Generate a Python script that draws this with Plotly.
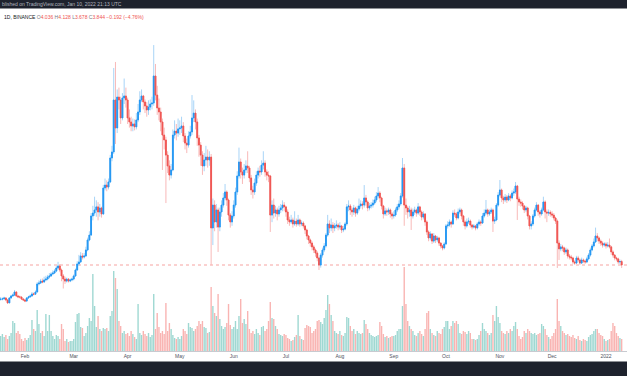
import pandas as pd
import plotly.graph_objects as go

# ---------------- data (daily, 2021-01-18 .. 2022-01-10) ----------------
start_date = "2021-01-18"
first_open = 1.95

closes = [
    1.97, 1.98, 2.03, 1.92, 1.76, 2.03, 2.14, 2.19, 2.36, 2.14,
    2.09, 2.08, 1.97, 1.92, 1.86, 2.03, 2.09, 2.14, 2.25, 2.24,
    2.36, 2.80, 2.85, 2.96, 2.91, 3.02, 3.07, 3.18, 3.24, 3.35,
    3.40, 3.51, 3.68, 3.79, 3.57, 3.24, 3.07, 2.96, 3.07, 2.96,
    3.02, 3.07, 3.24, 3.57, 3.90, 4.01, 4.34, 4.28, 4.34, 4.67,
    5.22, 5.49, 6.54, 6.70, 6.87, 7.04, 6.76, 6.98, 6.65, 8.08,
    8.24, 8.13, 8.41, 9.73, 10.06, 12.92, 11.38, 13.08, 12.92, 11.93,
    13.03, 13.14, 12.92, 11.93, 11.71, 11.49, 11.60, 11.44, 11.82, 12.26,
    12.92, 13.14, 12.81, 12.59, 12.37, 12.53, 12.70, 12.75, 14.24, 13.19,
    12.48, 12.26, 11.71, 10.99, 10.72, 9.89, 9.29, 8.79, 9.07, 10.99,
    11.21, 11.10, 11.33, 11.38, 11.49, 10.94, 10.55, 10.44, 10.94, 11.16,
    11.93, 12.20, 11.71, 10.83, 10.44, 9.89, 9.29, 9.62, 9.78, 9.62,
    9.78, 5.88, 7.14, 6.21, 6.87, 5.93, 6.76, 7.14, 7.53, 7.86,
    7.42, 6.59, 6.21, 6.54, 7.14, 7.86, 8.74, 9.51, 8.96, 8.79,
    9.07, 9.29, 9.18, 8.63, 7.97, 7.86, 8.35, 8.79, 9.01, 8.96,
    9.34, 9.45, 8.96, 8.79, 8.74, 6.59, 7.14, 6.70, 6.87, 6.65,
    6.87, 6.98, 7.14, 7.04, 6.76, 6.32, 6.21, 6.32, 6.10, 6.26,
    6.10, 6.32, 6.10, 6.15, 5.99, 5.77, 5.44, 5.22, 5.05, 4.84,
    4.67, 4.50, 4.23, 3.84, 4.39, 4.67, 4.89, 5.49, 6.10, 5.88,
    6.04, 5.88, 5.99, 6.04, 5.93, 5.99, 5.77, 5.82, 6.10, 7.04,
    7.09, 6.87, 6.76, 6.98, 6.70, 6.92, 7.09, 7.20, 7.14, 7.53,
    7.31, 6.98, 7.09, 7.14, 7.25, 7.42, 7.64, 7.80, 7.53, 7.09,
    6.65, 6.82, 6.76, 6.87, 6.65, 6.54, 6.59, 6.87, 7.04, 7.20,
    7.64, 9.18, 7.14, 6.98, 6.76, 6.87, 6.54, 6.76, 6.87, 6.70,
    7.04, 6.76, 6.48, 6.65, 6.21, 5.66, 5.33, 5.55, 5.16, 5.44,
    5.22, 5.33, 5.05, 4.89, 4.78, 5.00, 5.99, 6.04, 6.21, 6.10,
    6.70, 6.65, 6.43, 6.76, 6.87, 6.54, 6.21, 5.99, 6.21, 6.26,
    6.04, 5.93, 5.99, 5.88, 6.10, 6.21, 6.15, 6.54, 6.70, 6.87,
    6.65, 6.76, 6.87, 6.26, 6.32, 7.14, 7.69, 7.97, 7.53, 7.42,
    7.58, 7.42, 7.64, 7.53, 7.80, 7.86, 8.19, 7.47, 7.31, 7.25,
    7.09, 6.87, 6.98, 6.54, 5.99, 6.10, 6.54, 6.87, 7.14, 6.76,
    6.65, 6.87, 7.31, 6.76, 6.70, 6.74, 6.65, 6.59, 6.43, 6.26,
    5.05, 4.73, 4.84, 4.78, 4.56, 4.67, 4.34, 4.28, 4.23, 4.01,
    3.95, 4.23, 4.12, 3.95, 4.12, 4.06, 4.01, 4.18, 4.39, 4.67,
    4.89, 5.11, 5.44, 5.33, 5.16, 5.05, 4.94, 5.00, 4.89, 4.94,
    4.84, 4.56, 4.39, 4.23, 4.18, 4.01, 4.036, 3.844,
]

highs = [
    2.08, 2.06, 2.10, 2.07, 1.96, 2.08, 2.20, 2.28, 2.47, 2.40,
    2.20, 2.16, 2.12, 2.03, 1.98, 2.08, 2.15, 2.22, 2.36, 2.33,
    2.45, 2.90, 3.00, 3.08, 3.10, 3.20, 3.25, 3.30, 3.40, 3.45,
    3.55, 3.62, 3.80, 4.02, 3.90, 3.65, 3.35, 3.20, 3.15, 3.12,
    3.10, 3.15, 3.32, 3.65, 4.05, 4.40, 4.55, 4.50, 4.50, 4.85,
    5.35, 5.70, 6.70, 7.10, 7.60, 7.40, 7.30, 7.20, 7.05, 8.25,
    8.60, 8.50, 8.60, 9.90, 10.40, 14.68, 15.01, 13.50, 13.60, 13.10,
    13.30, 14.10, 13.60, 13.05, 12.40, 12.00, 11.90, 11.85, 12.20, 12.70,
    13.40, 13.50, 13.20, 12.95, 12.80, 12.90, 12.95, 13.10, 15.94, 14.90,
    13.70, 13.00, 12.50, 11.90, 11.40, 10.90, 10.10, 9.60, 9.40, 11.30,
    11.80, 11.60, 11.90, 11.80, 12.00, 11.70, 11.10, 10.80, 11.20, 11.50,
    13.19, 12.90, 12.40, 11.90, 11.00, 10.60, 10.10, 10.00, 10.40, 10.20,
    10.10, 9.95, 7.50, 7.40, 7.20, 7.00, 7.00, 7.40, 7.80, 8.30,
    7.95, 7.50, 6.70, 6.80, 7.40, 8.10, 9.00, 10.30, 9.70, 9.20,
    9.40, 9.60, 10.10, 9.30, 8.80, 8.20, 8.60, 9.00, 9.20, 9.30,
    9.60, 10.10, 9.60, 9.10, 9.00, 8.80, 7.40, 7.50, 7.10, 7.00,
    7.10, 7.20, 7.40, 7.30, 7.10, 6.90, 6.50, 6.60, 6.45, 6.80,
    6.40, 6.60, 6.40, 6.30, 6.25, 6.05, 5.85, 5.50, 5.30, 5.15,
    4.95, 4.75, 4.60, 4.30, 4.50, 4.80, 5.05, 5.60, 6.60, 6.30,
    6.40, 6.20, 6.15, 6.30, 6.15, 6.20, 6.05, 6.00, 6.20, 7.20,
    7.40, 7.20, 7.00, 7.15, 7.05, 7.10, 7.50, 7.40, 7.35, 8.24,
    7.70, 7.40, 7.25, 7.30, 7.45, 7.60, 7.85, 8.13, 7.90, 7.60,
    7.15, 7.00, 6.95, 7.00, 6.95, 6.75, 6.80, 7.00, 7.20, 7.40,
    7.80, 9.73, 9.40, 7.50, 7.10, 7.10, 7.00, 6.95, 7.05, 6.95,
    7.25, 7.10, 6.85, 6.80, 6.70, 6.30, 5.75, 5.70, 5.60, 5.60,
    5.50, 5.45, 5.40, 5.10, 4.95, 5.10, 6.10, 6.25, 6.35, 6.30,
    6.85, 6.90, 6.75, 6.95, 7.00, 6.95, 6.60, 6.30, 6.40, 6.45,
    6.35, 6.10, 6.10, 6.05, 6.20, 6.35, 6.30, 6.70, 6.90, 7.42,
    6.95, 6.90, 7.00, 6.95, 6.50, 7.25, 7.85, 8.52, 8.05, 7.65,
    7.75, 7.70, 7.80, 7.75, 7.95, 8.05, 8.41, 8.25, 7.60, 7.45,
    7.35, 7.15, 7.10, 7.05, 6.60, 6.25, 6.65, 7.00, 7.30, 7.20,
    6.85, 7.00, 7.60, 7.40, 6.90, 6.90, 6.85, 6.80, 6.70, 6.50,
    6.35, 5.20, 5.00, 4.95, 4.85, 4.80, 4.75, 4.45, 4.40, 4.30,
    4.10, 4.35, 4.35, 4.20, 4.25, 4.20, 4.15, 4.30, 4.50, 4.80,
    5.00, 5.30, 5.90, 5.60, 5.40, 5.25, 5.15, 5.10, 5.10, 5.10,
    5.30, 4.90, 4.65, 4.45, 4.30, 4.25, 4.15, 4.128,
]

lows = [
    1.88, 1.90, 1.93, 1.85, 1.70, 1.74, 1.99, 2.08, 2.15, 2.08,
    2.02, 2.00, 1.92, 1.86, 1.80, 1.84, 1.98, 2.05, 2.10, 2.17,
    2.20, 2.33, 2.72, 2.80, 2.84, 2.86, 2.95, 3.00, 3.10, 3.20,
    3.28, 3.35, 3.45, 3.60, 3.45, 2.95, 2.55, 2.80, 2.88, 2.88,
    2.90, 2.95, 3.00, 3.20, 3.52, 3.80, 3.95, 4.15, 4.20, 4.30,
    4.60, 5.15, 5.45, 6.30, 6.55, 6.50, 6.30, 6.50, 6.45, 6.60,
    7.95, 7.90, 8.00, 8.35, 9.55, 9.95, 10.50, 11.10, 12.40, 11.60,
    11.80, 12.70, 12.50, 11.60, 11.40, 11.20, 11.20, 11.25, 11.30, 11.70,
    12.10, 12.80, 12.40, 12.20, 12.00, 12.10, 12.35, 12.40, 12.60, 12.90,
    12.10, 11.80, 11.20, 9.07, 10.20, 7.25, 8.90, 8.50, 8.60, 9.00,
    10.80, 10.70, 10.90, 11.00, 11.10, 10.60, 10.20, 10.00, 10.30, 10.80,
    11.00, 11.70, 11.30, 10.40, 9.80, 9.30, 8.80, 9.00, 9.30, 9.20,
    9.30, 3.84, 4.94, 5.70, 5.90, 4.56, 5.70, 6.50, 7.00, 7.40,
    7.10, 6.30, 5.90, 6.00, 6.40, 7.00, 7.70, 8.60, 8.60, 8.30,
    8.60, 8.90, 8.90, 8.40, 7.70, 7.50, 7.70, 8.20, 8.60, 8.70,
    8.80, 9.10, 8.70, 8.50, 8.40, 5.66, 6.20, 6.40, 6.50, 6.30,
    6.50, 6.70, 6.80, 6.80, 6.50, 6.10, 6.00, 6.10, 5.90, 6.00,
    5.95, 6.00, 5.95, 5.98, 5.85, 5.55, 5.25, 5.00, 4.85, 4.65,
    4.50, 4.30, 4.05, 3.57, 3.70, 4.25, 4.55, 4.80, 5.40, 5.60,
    5.70, 5.60, 5.70, 5.85, 5.75, 5.80, 5.60, 5.65, 5.75, 6.00,
    6.80, 6.60, 6.50, 6.60, 6.50, 6.60, 6.80, 6.95, 6.90, 7.00,
    7.10, 6.80, 6.85, 6.95, 7.00, 7.15, 7.30, 7.50, 7.30, 6.90,
    6.40, 6.55, 6.55, 6.60, 6.45, 6.35, 6.40, 6.50, 6.75, 6.90,
    7.10, 7.55, 6.00, 6.60, 6.40, 6.50, 5.77, 6.40, 6.60, 6.50,
    6.60, 6.55, 6.30, 6.35, 6.00, 5.50, 5.15, 5.20, 5.00, 5.05,
    5.05, 5.10, 4.90, 4.75, 4.65, 4.70, 4.95, 5.85, 5.95, 5.90,
    6.05, 6.50, 6.30, 6.35, 6.65, 6.35, 6.00, 5.80, 5.90, 6.10,
    5.90, 5.80, 5.85, 5.75, 5.80, 6.00, 6.00, 6.10, 6.45, 6.60,
    6.50, 6.55, 6.65, 5.66, 6.10, 6.25, 7.05, 7.60, 7.30, 7.20,
    7.30, 7.25, 7.35, 7.35, 7.45, 7.65, 7.75, 6.32, 7.10, 7.05,
    6.90, 6.70, 6.75, 6.35, 5.80, 5.80, 6.00, 6.45, 6.80, 6.55,
    6.45, 6.55, 6.80, 6.40, 6.20, 6.55, 6.50, 6.45, 6.30, 6.10,
    3.68, 4.12, 4.60, 4.60, 4.40, 4.45, 4.20, 4.15, 4.10, 3.90,
    3.85, 3.90, 4.00, 3.85, 3.90, 3.95, 3.90, 3.95, 4.10, 4.30,
    4.60, 4.80, 5.05, 5.15, 5.00, 4.90, 4.80, 4.85, 4.75, 4.80,
    4.75, 4.40, 4.25, 4.10, 4.05, 3.90, 3.90, 3.678,
]

volumes_m = [
    15, 17, 14, 16, 12, 15, 18, 30, 28, 18,
    20, 17, 12, 10, 13, 11, 13, 16, 31, 22,
    20, 41, 27, 18, 20, 15, 37, 20, 36, 20,
    15, 12, 16, 15, 12, 27, 22, 10, 12, 9,
    10, 10, 12, 29, 37, 38, 24, 23, 15, 18,
    25, 33, 30, 77, 45, 24, 35, 22, 20, 23,
    22, 23, 20, 35, 40, 80, 73, 62, 30, 25,
    18, 20, 17, 18, 15, 20, 17, 14, 12, 47,
    18, 16, 20, 17, 15, 18, 14, 16, 57, 22,
    38, 24, 18, 20, 17, 48, 20, 28, 22, 16,
    13, 12, 14, 12, 15, 22, 20, 17, 28, 24,
    23, 20, 22, 25, 30, 27, 30, 24, 23, 18,
    19, 64, 45, 38, 35, 57, 32, 25, 22, 24,
    28, 47, 26, 22, 24, 30, 22, 35, 52, 28,
    32, 27, 40, 22, 18, 20, 17, 22, 18, 16,
    24, 25, 20, 22, 30, 49, 33, 32, 25, 22,
    17, 16, 15, 17, 16, 13, 12, 10, 11, 14,
    16, 36, 15, 12, 11, 23, 26, 25, 24, 18,
    20, 22, 30, 31, 29, 27, 33, 41, 56, 47,
    36, 30, 20, 18, 17, 20, 16, 15, 18, 34,
    33, 25, 20, 22, 17, 20, 18, 17, 18, 31,
    27, 22, 18, 16, 15, 14, 15, 16, 29, 25,
    17, 14, 15, 13, 14, 15, 15, 16, 20, 22,
    22, 45, 84, 47, 30, 25, 22, 20, 16, 15,
    18, 20, 17, 15, 22, 38, 40, 22, 18, 16,
    15, 20, 18, 17, 22, 24, 30, 30, 22, 25,
    30, 28, 30, 27, 18, 17, 20, 19, 17, 20,
    18, 12, 12, 11, 12, 16, 20, 28, 22, 20,
    18, 16, 18, 36, 30, 45, 34, 28, 20, 18,
    17, 20, 18, 22, 20, 25, 29, 22, 15, 12,
    14, 20, 18, 22, 20, 18, 17, 18, 16, 17,
    18, 27, 25, 22, 16, 14, 12, 15, 18, 22,
    52, 30, 25, 20, 18, 16, 17, 15, 14, 16,
    13, 12, 15, 11, 10, 12, 11, 10, 14, 16,
    17, 20, 22, 22, 18, 16, 15, 12, 10, 11,
    12, 20, 28, 25, 18, 15, 13, 12,
]

month_ticks = ["2021-02-01", "2021-03-01", "2021-04-01", "2021-05-01", "2021-06-01",
               "2021-07-01", "2021-08-01", "2021-09-01", "2021-10-01", "2021-11-01",
               "2021-12-01", "2022-01-01"]
month_labels = ["Feb", "Mar", "Apr", "May", "Jun", "Jul", "Aug", "Sep", "Oct", "Nov", "Dec", "2022"]

header_text = "blished on TradingView.com, Jan 10, 2022 21:13 UTC"
symbol_text = "1D, BINANCE"

# ---------------- derived ----------------
n = len(closes)
assert len(highs) == n and len(lows) == n and len(volumes_m) == n
dates = pd.date_range(start_date, periods=n, freq="D")
opens = [first_open] + closes[:-1]
body_hi = [max(o, c) for o, c in zip(opens, closes)]
body_lo = [min(o, c) for o, c in zip(opens, closes)]
vol_colors = ["#9fd8d2" if c >= o else "#f9b4b2" for o, c in zip(opens, closes)]

UP, DOWN = "#2196f3", "#ef5350"
UP_W, DOWN_W = "#a8d4f7", "#f8b9b8"

fig = go.Figure()
fig.add_trace(go.Bar(x=dates, y=volumes_m, marker=dict(color=vol_colors, line=dict(width=0)),
                     yaxis="y2", showlegend=False, hoverinfo="skip"))
# wicks
fig.add_trace(go.Candlestick(x=dates, open=opens, high=highs, low=lows, close=closes,
                             increasing=dict(line=dict(color=UP_W, width=1), fillcolor=UP_W),
                             decreasing=dict(line=dict(color=DOWN_W, width=1), fillcolor=DOWN_W),
                             showlegend=False, hoverinfo="skip"))
# bodies
fig.add_trace(go.Candlestick(x=dates, open=opens, high=body_hi, low=body_lo, close=closes,
                             increasing=dict(line=dict(color=UP, width=0.9), fillcolor=UP),
                             decreasing=dict(line=dict(color=DOWN, width=0.9), fillcolor=DOWN),
                             showlegend=False, hoverinfo="skip"))

last_close = closes[-1]
chg = closes[-1] - opens[-1]
pct = chg / opens[-1] * 100

H = 376
top, bottom = 9, 351   # plot area in pixels
def py(Y):
    return (bottom - Y) / (bottom - top)

info = (f"<span style='color:#131722'>{symbol_text}</span> "
        f"<span style='color:#787b86'>O</span><span style='color:{DOWN}'>{opens[-1]:.3f}</span> "
        f"<span style='color:#787b86'>H</span><span style='color:{DOWN}'>{highs[-1]:.3f}</span> "
        f"<span style='color:#787b86'>L</span><span style='color:{DOWN}'>{lows[-1]:.3f}</span> "
        f"<span style='color:#787b86'>C</span><span style='color:{DOWN}'>{closes[-1]:.3f}</span> "
        f"<span style='color:{DOWN}'>\u2212{abs(chg):.3f} (\u2212{abs(pct):.2f}%)</span>")

fig.update_layout(
    width=627, height=H,
    margin=dict(l=0, r=0, t=top, b=H - bottom),
    paper_bgcolor="white", plot_bgcolor="white",
    font=dict(family="Liberation Sans, Arial, sans-serif", size=5, color="#50535e"),
    bargap=0.2,
    xaxis=dict(type="date", range=["2021-01-17 15:00", "2022-01-13 01:40"],
               rangeslider=dict(visible=False), showgrid=False, zeroline=False,
               tickvals=month_ticks, ticktext=month_labels, ticks="",
               tickfont=dict(size=5, color="#50535e"),
               showline=True, linecolor="#c8cad0", linewidth=1, fixedrange=True),
    yaxis=dict(range=[-0.886, 17.924], showgrid=False, zeroline=False,
               showticklabels=False, fixedrange=True),
    yaxis2=dict(range=[0, 342], overlaying="y", showgrid=False, zeroline=False,
                showticklabels=False, fixedrange=True),
    shapes=[
        dict(type="line", xref="paper", x0=0, x1=1, yref="y", y0=last_close, y1=last_close,
             line=dict(color="#f6a3a1", width=1, dash="dot"), layer="below"),
        dict(type="rect", xref="paper", x0=0, x1=1, yref="paper", y0=py(8.5), y1=py(0) + 0.01,
             fillcolor="#1e222d", line=dict(width=0), layer="above"),
        dict(type="rect", xref="paper", x0=0, x1=1, yref="paper", y0=py(376) - 0.01, y1=py(361.5),
             fillcolor="#1e222d", line=dict(width=0), layer="above"),
    ],
    annotations=[
        dict(text=header_text, xref="paper", yref="paper", x=0, y=py(4.2), xanchor="left",
             yanchor="middle", xshift=0, showarrow=False, font=dict(size=5, color="#b2b5be")),
        dict(text=info, xref="paper", yref="paper", x=0, y=py(17), xanchor="left",
             yanchor="middle", xshift=2, showarrow=False, font=dict(size=5)),
    ],
)

fig.write_html("out.html", config={"displayModeBar": False, "staticPlot": True},
               post_script="document.body.style.margin='0';document.body.style.overflow='hidden';")
